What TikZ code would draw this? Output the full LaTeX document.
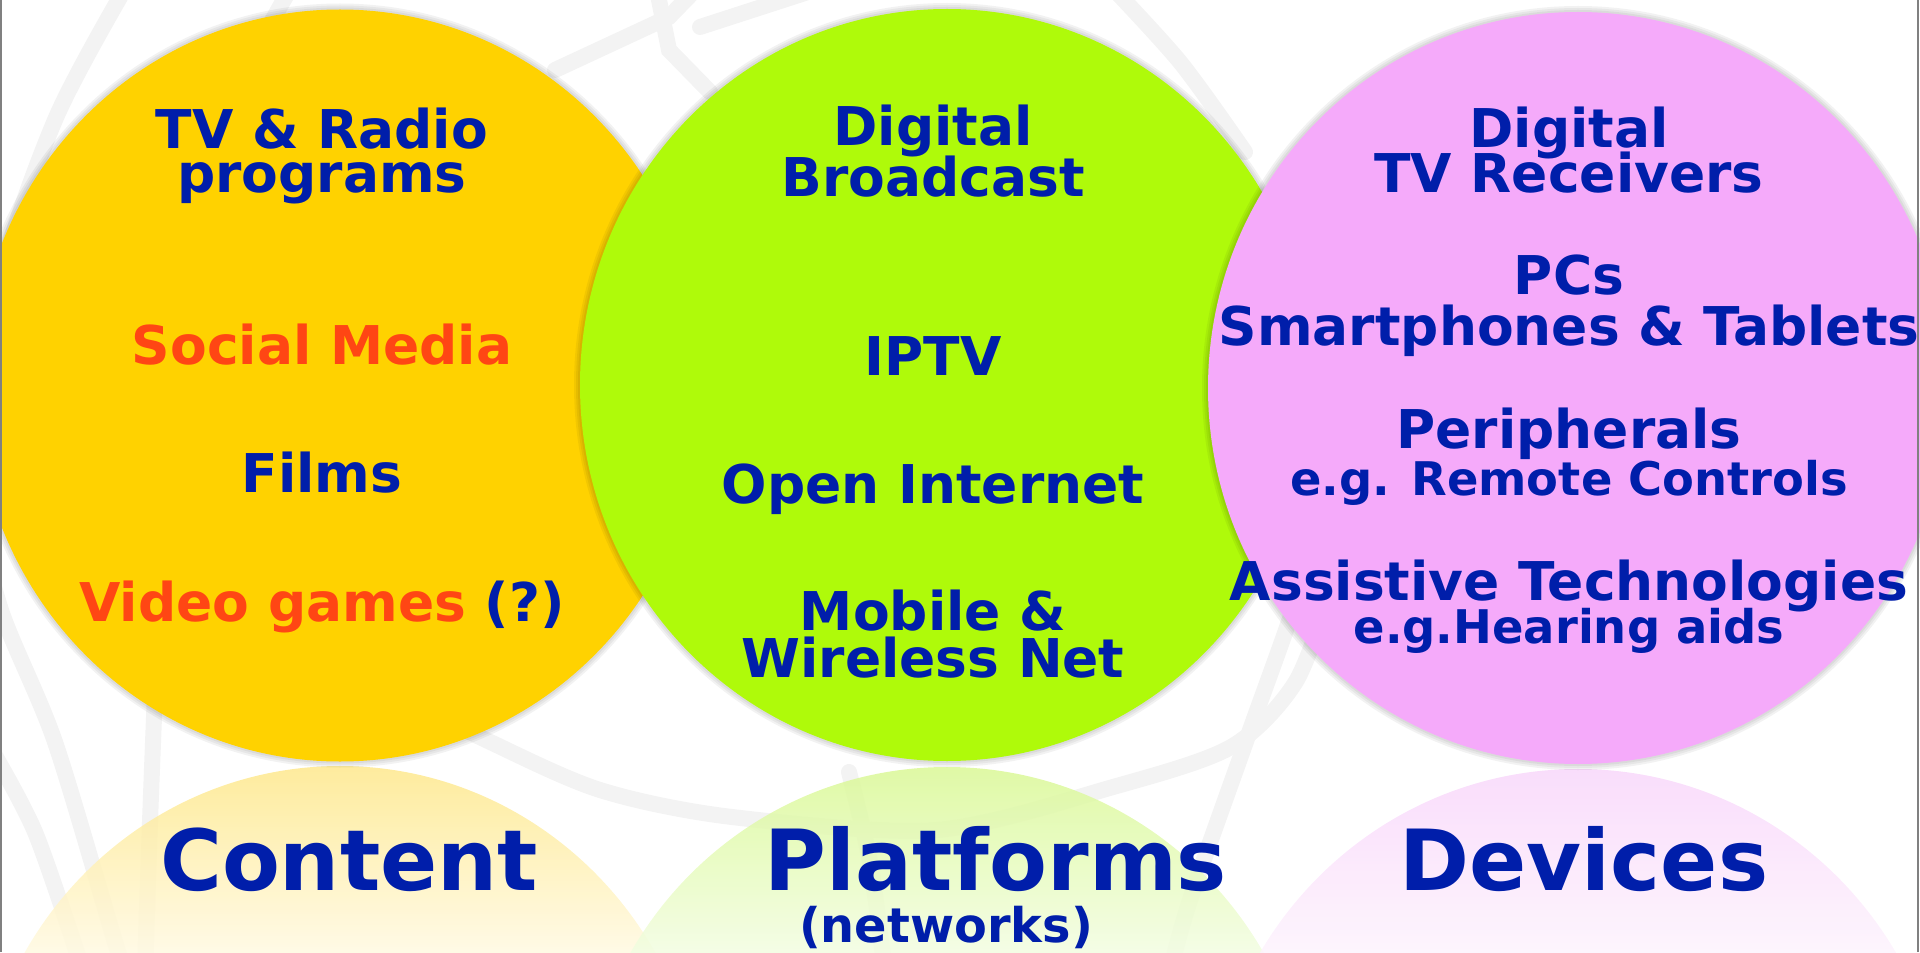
\documentclass[tikz,border=0pt]{standalone}
\usepackage{fontspec}
\setmainfont{DejaVu Sans}

\definecolor{cblue}{RGB}{0,30,170}
\definecolor{corange}{RGB}{255,70,20}
\definecolor{cyellow}{RGB}{255,210,0}
\definecolor{cgreen}{RGB}{175,250,10}
\definecolor{cpink}{RGB}{245,170,250}
\definecolor{cglobe}{RGB}{243,243,243}

\tikzset{
  item/.style={font=\fontsize{15.2}{16}\selectfont\bfseries, text=cblue, anchor=base, inner sep=0pt},
  note/.style={item, font=\fontsize{13.2}{14}\selectfont\bfseries},
  title/.style={item, font=\fontsize{24}{26}\selectfont\bfseries},
  globe/.style={draw=cglobe, line width=0.16cm, line cap=round},
  halo/.style={fill=black, fill opacity=0.05},
}

\begin{document}
\begin{tikzpicture}
            \useasboundingbox (0,0) rectangle (19.2,9.52);
            \clip (0,0) rectangle (19.2,9.52);

            % Drawing globe watermark
            \draw [globe] plot [smooth] coordinates {(1.30,9.72) (0.55,8.32) (-0.05,6.52) (-0.20,4.52) (0.00,3.45) (0.55,2.10) (1.15,0.10) (1.25,-0.20)};%
            \draw [globe] plot [smooth] coordinates {(-0.10,2.05) (0.35,1.20) (0.80,-0.10)};%
            \draw [globe] plot [smooth] coordinates {(1.55,2.60) (1.50,1.30) (1.45,-0.20)};%
            \draw [globe] plot [smooth] coordinates {(3.90,2.60) (4.86,2.12) (6.00,1.62) (7.32,1.35) (9.37,1.22) (11.13,1.65) (12.31,2.05) (12.95,2.69) (13.30,3.60)};%
            \draw [globe] plot [smooth] coordinates {(13.10,4.20) (12.96,3.52) (12.49,2.19) (11.90,0.52) (11.70,-0.20)};%
            \draw [globe] plot [smooth] coordinates {(8.49,1.80) (8.70,0.90) (8.85,-0.20)};%
            \draw [globe] (5.55,8.82) -- (6.69,9.35) -- (7.05,9.72);%
            \draw [globe] (6.55,9.72) -- (6.69,9.02) -- (7.10,8.60);%
            \draw [globe] (7.00,9.25) -- (8.45,9.72);%
            \draw [globe] plot [smooth] coordinates {(11.05,9.72) (11.80,8.90) (12.45,8.00)};%
            \draw [globe] (2.95,9.72) -- (2.50,8.92);%

            % Drawing reflection of content
            \begin{scope}
              \clip (3.40,-1.90) ellipse (3.65 and 3.76);
              \shade [top color={rgb,255:red,254;green,232;blue,140}, bottom color={rgb,255:red,255;green,249;blue,225}, opacity=0.85] (-0.50,1.86) rectangle (7.50,0.00);%
            \end{scope}

            % Drawing reflection of platforms
            \begin{scope}
              \clip (9.47,-1.91) ellipse (3.67 and 3.76);
              \shade [top color={rgb,255:red,218;green,248;blue,150}, bottom color={rgb,255:red,242;green,253;blue,225}, opacity=0.85] (5.50,1.85) rectangle (13.50,0.00);%
            \end{scope}

            % Drawing reflection of devices
            \begin{scope}
              \clip (15.78,-1.93) ellipse (3.70 and 3.76);
              \shade [top color={rgb,255:red,248;green,215;blue,250}, bottom color={rgb,255:red,253;green,243;blue,253}, opacity=0.85] (11.80,1.83) rectangle (19.80,0.00);%
            \end{scope}

            % Drawing ellipse content
            \foreach \r in {0.06,0.04,0.02}
              \fill [halo] (3.40,5.665) ellipse ({3.65+\r} and {3.76+\r});%
            \fill [cyellow] (3.40,5.665) ellipse (3.65 and 3.76);%

            % Drawing ellipse platforms
            \foreach \r in {0.06,0.04,0.02}
              \fill [halo] (9.47,5.67) ellipse ({3.67+\r} and {3.76+\r});%
            \fill [cgreen] (9.47,5.67) ellipse (3.67 and 3.76);%

            % Drawing ellipse devices
            \foreach \r in {0.06,0.04,0.02}
              \fill [halo] (15.78,5.64) ellipse ({3.70+\r} and {3.76+\r});%
            \fill [cpink] (15.78,5.64) ellipse (3.70 and 3.76);%

            % Marking content items
            \node [item] (tvradio) at (3.22,8.03) {TV \& Radio};%
            \node [item] (programs) at (3.22,7.59) {programs};%
            \node [item, text=corange] (social) at (3.22,5.87) {Social Media};%
            \node [item] (films) at (3.22,4.60) {Films};%
            \node [item] (games) at (3.22,3.31) {\textcolor{corange}{Video games} (?)};%

            % Marking platform items
            \node [item] (digital) at (9.33,8.06) {Digital};%
            \node [item] (broadcast) at (9.33,7.55) {Broadcast};%
            \node [item] (iptv) at (9.33,5.77) {IPTV};%
            \node [item] (internet) at (9.33,4.49) {Open Internet};%
            \node [item] (mobile) at (9.33,3.22) {Mobile \&};%
            \node [item] (wireless) at (9.33,2.75) {Wireless Net};%

            % Marking device items
            \node [item] (digitaltv) at (15.69,8.04) {Digital};%
            \node [item] (receivers) at (15.69,7.59) {TV Receivers};%
            \node [item] (pcs) at (15.69,6.57) {PCs};%
            \node [item] (phones) at (15.69,6.07) {Smartphones \& Tablets};%
            \node [item] (peripherals) at (15.69,5.04) {Peripherals};%
            \node [note] (remote) at (15.69,4.57) {e.g. Remote Controls};%
            \node [item] (assistive) at (15.69,3.52) {Assistive Technologies};%
            \node [note] (hearing) at (15.69,3.09) {e.g.Hearing aids};%

            % Marking titles
            \node [title] (content) at (3.49,0.62) {Content};%
            \node [title] (platforms) at (9.96,0.62) {Platforms};%
            \node [item, font=\fontsize{13.6}{14}\selectfont\bfseries] (networks) at (9.46,0.10) {(networks)};%
            \node [title] (devices) at (15.84,0.62) {Devices};%

            % Drawing frame edges
            \draw [gray, line width=0.02cm] (0.01,0) -- (0.01,9.52);%
            \draw [gray, line width=0.02cm] (19.18,0) -- (19.18,9.52);%
\end{tikzpicture}
\end{document}
